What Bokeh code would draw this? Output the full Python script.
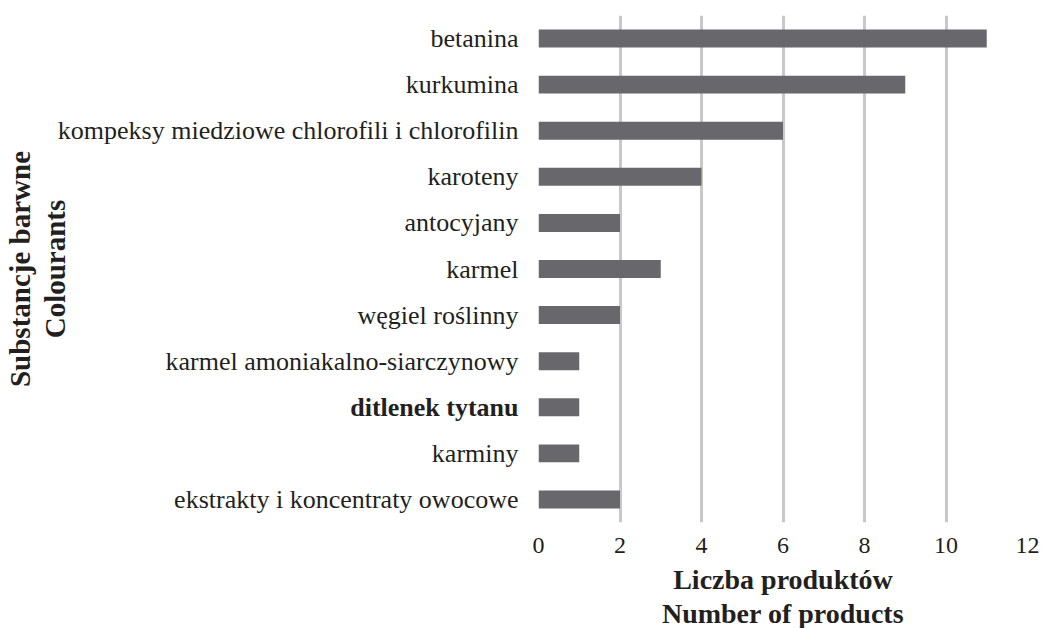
import math
from bokeh.plotting import figure
from bokeh.models import FactorRange, ColumnDataSource
from bokeh.layouts import row
from bokeh.core.properties import value
from bokeh.embed import file_html
from bokeh.resources import INLINE

categories = ["betanina", "kurkumina", "kompeksy miedziowe chlorofili i chlorofilin",
              "karoteny", "antocyjany", "karmel", "węgiel roślinny",
              "karmel amoniakalno-siarczynowy", "ditlenek tytanu", "karminy",
              "ekstrakty i koncentraty owocowe"]
values = [11, 9, 6, 4, 2, 3, 2, 1, 1, 1, 2]
bold_category = "ditlenek tytanu"
x_ticks = [0, 2, 4, 6, 8, 10, 12]
x_title = "Liczba produktów\nNumber of products"
y_title = "Substancje barwne\nColourants"

FONT = "Liberation Serif"
TXT = "#231f20"

yr = FactorRange(factors=list(reversed(categories)), range_padding=0)
src = ColumnDataSource(dict(cat=categories, val=values,
                            style=["bold" if c == bold_category else "normal" for c in categories]))

# ---- main bar plot ----
p = figure(frame_width=489, frame_height=507, output_backend="svg", toolbar_location=None,
           y_range=yr, x_range=(0, 12))
p.min_border_top = 15
p.min_border_right = 14
p.min_border_left = 10
p.min_border_bottom = 0
p.outline_line_color = None
p.yaxis.visible = False

p.hbar(y="cat", right="val", left=0, height=0.39, source=src,
       fill_color="#68686c", line_color=None)

p.xgrid.ticker = x_ticks
p.xgrid.grid_line_color = "#c8c8c8"
p.xgrid.grid_line_width = 3
p.ygrid.grid_line_color = None

p.xaxis.ticker = x_ticks
p.xaxis.axis_line_color = None
p.xaxis.major_tick_line_color = None
p.xaxis.minor_tick_line_color = None
p.xaxis.major_tick_out = 0
p.xaxis.major_label_text_font = FONT
p.xaxis.major_label_text_font_size = "24px"
p.xaxis.major_label_text_color = TXT
p.xaxis.major_label_standoff = 15
p.xaxis.axis_label = x_title
p.xaxis.axis_label_text_font = FONT
p.xaxis.axis_label_text_font_size = "28px"
p.xaxis.axis_label_text_font_style = "bold"
p.xaxis.axis_label_text_color = TXT
p.xaxis.axis_label_text_line_height = 1.1
p.xaxis.axis_label_standoff = 8

# ---- category label panel ----
q = figure(width=528, frame_height=507, output_backend="svg", toolbar_location=None,
           y_range=yr, x_range=(0, 1))
q.min_border_top = 15
q.min_border_right = 0
q.min_border_left = 0
q.min_border_bottom = 106
q.outline_line_color = None
q.xaxis.visible = False
q.yaxis.visible = False
q.xgrid.grid_line_color = None
q.ygrid.grid_line_color = None

q.text(x=1, y="cat", text="cat", source=src, x_offset=-10,
       text_align="right", text_baseline="middle",
       text_font=value(FONT), text_font_size="26px", text_font_style="style",
       text_color=TXT)

# rotated y-axis title, centred on the category range
q.text(x=[0], y=[len(categories) / 2], text=[y_title], x_offset=37, angle=math.pi / 2,
       text_align="center", text_baseline="middle", text_line_height=1.1,
       text_font=value(FONT), text_font_size="29px", text_font_style="bold",
       text_color=TXT)

layout = row(q, p, spacing=0)
open("out.html", "w").write(file_html(layout, INLINE))
